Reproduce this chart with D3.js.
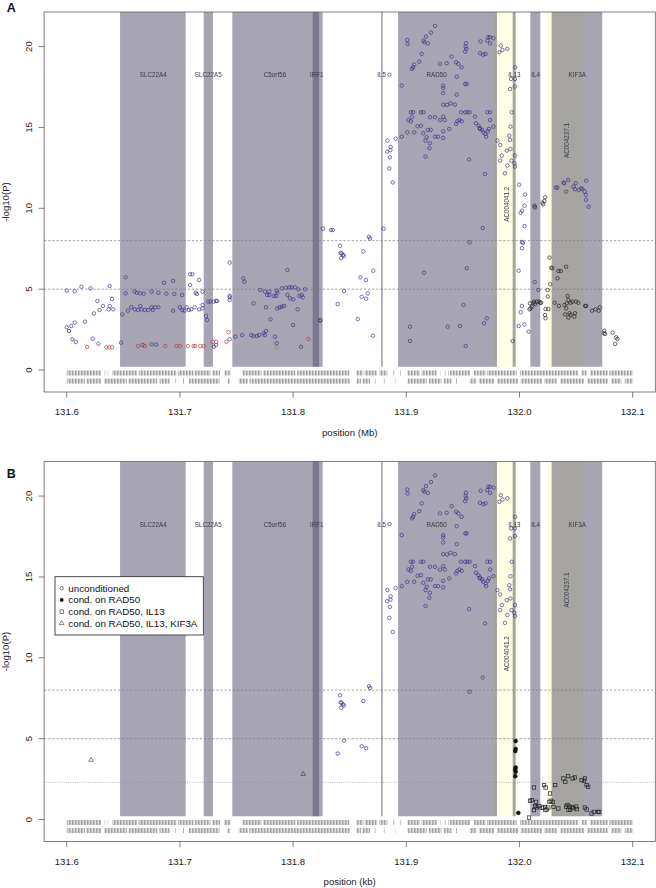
<!DOCTYPE html>
<html><head><meta charset="utf-8">
<script src="https://cdn.jsdelivr.net/npm/d3@7"></script>
<style>
body{margin:0;background:#fff;}
svg{display:block;font-family:"Liberation Sans",Arial,Helvetica,sans-serif;}
</style>
</head><body>
<svg id="chart" width="656" height="888"></svg>
<script>
// ---------- DATA ----------
const xTicks = [131.6, 131.7, 131.8, 131.9, 132.0, 132.1];
const xTickLabels = ["131.6", "131.7", "131.8", "131.9", "132.0", "132.1"];
const yTicks = [0, 5, 10, 15, 20];
const yTickLabels = ["0", "5", "10", "15", "20"];
const panelLetters = ["A", "B"];
const xTitles = ["position (Mb)", "position (kb)"];
const yTitle = "-log10(P)";

const geneNames  = ["SLC22A4", "SLC22A5", "C5orf56", "IRF1", "IL5", "RAD50", "IL13", "IL4", "KIF3A"];
const geneStart  = [131.6471, 131.7210, 131.7463, 131.8173, 131.8777, 131.8927, 131.9940, 132.0096, 132.0284];
const geneEnd    = [131.7051, 131.7292, 131.8229, 131.8261, 131.8792, 131.9801, 131.9966, 132.0184, 132.0731];
const geneLabelX = [131.6765, 131.7251, 131.7840, 131.8209, 131.8783, 131.9268, 131.9955, 132.0142, 132.0511];
const geneLabelY = 18.25;

const ncNames  = ["AC004041.2", "AC004237.1"];
const ncStart  = [131.9771, 132.0240];
const ncEnd    = [131.9982, 132.0570];
const ncLabelX = [131.9887, 132.0422];
const ncLabelY = [10.25, 14.2];

const thresholdsA = [8, 5];
const thresholdsB = [8, 5];
const dottedB = [2.3];

// unconditioned SNPs shown in both panels
const uncondShared = [
 [131.8394,4.08],[131.8450,4.88],[131.8606,4.53],[131.8645,4.41],[131.8415,7.68],[131.8420,7.24],[131.8428,7.22],
 [131.8440,7.12],[131.8448,7.05],[131.8425,6.92],[131.8620,7.33],[131.8670,8.24],[131.8680,8.13],
 [131.8851,18.27],[131.8960,17.59],[131.8833,14.19],[131.8830,13.5],[131.8860,13.6],[131.8862,13.8],[131.8855,13.15],
 [131.8850,12.47],[131.8880,11.6],[131.8906,14.31],[131.8960,14.43],
 [131.9254,21.28],[131.9218,20.87],[131.9174,20.62],[131.9009,20.41],[131.9012,20.16],[131.9150,20.37],[131.9160,20.27],
 [131.9190,20.2],[131.9136,19.55],[131.9115,19.07],[131.9070,18.89],[131.9060,18.72],[131.9050,18.62],[131.9298,18.93],
 [131.9357,18.97],[131.9401,19.38],[131.9440,19.03],[131.9460,18.93],[131.9489,18.72],[131.9445,18.14],
 [131.9527,20.21],[131.9524,20.0],[131.9530,19.86],[131.9520,19.69],[131.9657,20.33],[131.9724,20.58],[131.9740,20.58],
 [131.9716,20.37],[131.9740,20.2],[131.9770,20.52],[131.9651,19.59],[131.9680,19.5],[131.9700,19.55],
 [131.9326,17.59],[131.9326,17.44],[131.9326,17.13],[131.9521,17.69],[131.9533,17.69],[131.9445,17.03],[131.9390,16.49],
 [131.9360,16.39],[131.9326,16.41],[131.9430,16.41],
 [131.9483,15.94],[131.9520,15.94],[131.9540,15.94],[131.9560,15.94],[131.9040,15.94],[131.9060,15.94],[131.9130,15.94],[131.9150,15.94],
 [131.9018,15.46],[131.9040,15.38],[131.9050,15.63],[131.9100,15.07],[131.9130,15.11],
 [131.9210,15.63],[131.9254,15.63],[131.9298,15.46],[131.9340,15.46],[131.9327,15.67],
 [131.9009,14.7],[131.9070,14.7],[131.9150,14.64],[131.9190,14.85],[131.9216,14.85],[131.9180,14.39],[131.9170,14.19],
 [131.9209,14.02],[131.9204,13.71],[131.9170,13.2],
 [131.9254,14.43],[131.9280,14.43],[131.9326,14.35],[131.9326,14.76],[131.9380,14.91],
 [131.9451,15.38],[131.9470,15.46],[131.9490,15.38],[131.9440,15.22],
 [131.9607,15.67],[131.9616,15.26],[131.9637,15.11],[131.9651,14.91],[131.9670,14.85],[131.9680,14.7],[131.9700,14.6],
 [131.9705,14.43],[131.9650,14.97],
 [131.9716,15.94],[131.9740,15.94],[131.9740,15.46],[131.9770,15.05],[131.9730,14.91],[131.9720,14.76],
 [131.9555,13.01],[131.9696,12.12],[131.9675,8.78],[131.9558,7.9],
 [131.9835,20.06],[131.9850,19.79],[131.9822,19.65],[131.9893,19.86],[131.9961,18.72],[131.9926,18.0],[131.9960,18.0],
 [131.9960,17.53],[131.9917,17.38],[131.9932,15.94],[131.9920,15.05],[131.9910,14.49],[131.9917,14.23],[131.9805,14.19],
 [131.9830,13.92],[131.9844,13.26],[131.9888,13.57],[131.9920,13.67],[131.9830,12.95],[131.9893,12.64],[131.9930,12.95],
 [131.9960,13.26],[131.9960,12.58],[131.9955,12.78],[131.9872,12.16]
];

// unconditioned SNPs shown only in panel A
const uncondAOnly = [
 [131.6000,4.91],[131.6070,4.87],[131.6130,5.15],[131.6210,5.05],[131.6380,5.20],[131.6520,5.73],[131.6270,4.27],
 [131.6400,4.39],[131.6320,3.96],[131.6380,3.96],[131.6410,3.75],[131.6370,3.75],[131.6290,3.71],[131.6240,3.50],
 [131.6160,2.99],[131.6070,2.93],[131.6040,2.72],[131.6000,2.64],[131.6050,1.90],[131.6080,1.73],[131.6230,1.94],
 [131.6280,1.63],[131.6480,1.69],
 [131.6520,4.74],[131.6600,4.85],[131.6620,4.78],[131.6650,4.74],[131.6680,4.72],[131.6750,4.85],[131.6810,4.78],
 [131.6880,4.72],[131.6950,4.70],[131.7020,4.64],[131.6860,5.40],[131.6940,5.51],[131.6490,3.44],[131.6540,3.67],
 [131.6570,3.88],[131.6600,3.75],[131.6630,3.71],[131.6660,3.75],[131.6690,3.71],[131.6720,3.71],[131.6750,3.88],
 [131.6780,3.88],[131.6810,3.88],[131.6760,3.71],[131.6940,3.67],[131.7000,3.88],[131.7020,3.71],[131.7040,3.67],
 [131.6650,3.96],[131.6670,1.55],[131.6750,1.59],[131.6790,1.57],
 [131.7090,5.92],[131.7110,5.92],[131.7090,5.26],[131.7170,5.57],[131.7140,4.78],[131.7150,4.70],[131.7200,4.85],
 [131.7060,3.88],[131.7080,3.71],[131.7100,3.75],[131.7130,3.88],[131.7170,3.75],[131.7200,4.02],[131.7200,3.81],
 [131.7230,3.34],[131.7240,3.09],[131.7250,4.23],[131.7270,4.23],[131.7300,4.23],[131.7320,4.27],[131.7300,1.44],
 [131.7320,1.55],[131.7330,4.27],[131.7440,1.90],[131.7440,4.33],[131.7440,4.49],[131.7440,4.58],[131.7440,6.64],
 [131.7490,2.06],[131.7550,2.16],[131.7630,2.16],[131.7650,2.10],[131.7680,2.10],[131.7700,2.16],[131.7740,2.27],
 [131.7760,2.41],[131.7750,2.16],[131.7840,2.06],[131.7855,1.65],[131.8070,1.44],[131.7560,5.67],[131.7570,5.46],
 [131.7650,4.12],[131.7710,4.95],[131.7770,4.64],[131.7790,4.64],[131.7830,4.58],[131.7850,4.58],
 [131.7752,4.85],[131.7790,4.85],[131.7855,4.91],[131.7900,5.05],[131.7938,5.09],[131.7967,5.11],[131.7988,5.11],
 [131.8017,5.11],[131.8047,4.99],[131.8105,4.99],
 [131.7760,3.88],[131.7800,3.13],[131.7860,3.81],[131.7880,3.88],[131.7900,3.92],[131.7920,3.96],
 [131.7861,4.78],[131.7950,4.64],[131.7973,4.43],[131.8002,4.37],[131.8055,4.58],[131.8076,4.64],[131.8085,4.49],
 [131.7950,6.19],[131.8000,2.78],[131.8040,3.75],[131.8240,3.09],
 [131.8264,8.74],[131.8334,8.66],[131.8350,8.66],[131.8239,3.05],[131.8595,5.73],[131.8644,5.57],[131.8708,6.14],
 [131.8659,4.74],[131.8571,3.15],[131.8705,2.12],[131.8800,8.74],
 [131.9157,6.02],[131.9534,6.29],[131.9505,4.02],[131.9033,2.68],[131.9366,2.68],[131.9475,2.72],[131.9711,3.2],
 [131.9687,2.89],[131.9033,1.79],[131.9525,1.48],[131.9940,1.79],
 [131.9996,11.46],[132.0050,10.85],[132.0044,10.16],[132.0024,9.85],[132.0010,9.73],[132.0044,8.9],[132.0022,7.92],
 [132.0030,7.86],[132.0022,7.53],[131.9993,6.14],[132.0022,3.96],[132.0010,3.57],[132.0043,2.82],[131.9993,2.72],
 [132.0081,2.37],[132.0134,5.44],[132.0167,4.95],
 [132.0323,11.28],[132.0335,11.28],[132.0389,11.59],[132.0395,11.55],[132.0430,11.75],[132.0412,11.03],[132.0477,11.34],
 [132.0498,11.55],[132.0489,11.18],[132.0523,11.13],[132.0545,11.24],[132.0557,11.18],[132.0577,11.03],[132.0586,10.82],
 [132.0589,10.52],[132.0589,11.71],[132.0610,10.1]
];

// panel A, black circles
const blackA = [
 [131.6020,2.41],[132.0133,10.16],[132.0136,10.06],[132.0203,10.35],[132.0220,10.45],[132.0227,10.68],[132.0210,10.25],
 [132.0265,6.95],[132.0280,6.33],[132.0290,6.29],[132.0345,6.12],[132.0365,6.12],[132.0412,6.39],[132.0336,5.67],
 [132.0271,5.3],[132.0248,4.95],[132.0250,4.54],[132.0230,3.77],[132.0256,3.77],[132.0226,3.4],[132.0230,3.2],
 [132.0093,4.12],[132.0124,4.16],[132.0153,4.23],[132.0183,4.16],[132.0139,4.08],[132.0109,3.92],[132.0089,3.75],
 [132.0129,4.23],[132.0174,4.23],[132.0191,4.16],[132.0097,3.81],
 [132.0426,4.58],[132.0432,4.33],[132.0418,4.12],[132.0452,4.16],[132.0499,4.23],[132.0397,4.02],[132.0412,3.81],
 [132.0442,3.51],[132.0452,3.40],[132.0490,3.51],[132.0485,3.30],[132.0403,3.44],[132.0432,3.24],[132.0310,4.16],
 [132.0348,3.96],[132.0467,4.23],[132.0520,4.16],
 [132.0580,3.96],[132.0589,3.96],[132.0641,3.67],[132.0671,3.75],[132.0709,3.88],[132.0700,3.67],
 [132.0749,2.43],[132.0757,2.23],[132.0745,2.27],[132.0824,2.31],[132.0854,2.02],[132.0866,1.92],[132.0845,1.61]
];

// panel A, red circles
const redA = [
 [131.6180,1.42],[131.6350,1.40],[131.6375,1.40],[131.6400,1.40],[131.6630,1.48],[131.6690,1.48],[131.6870,1.48],
 [131.6970,1.48],[131.7000,1.48],[131.7070,1.48],[131.7120,1.48],[131.7135,1.48],[131.7180,1.48],[131.7210,1.48],
 [131.7290,1.73],[131.7320,1.73],[131.7430,2.33],[131.7410,1.75],[131.8135,1.92]
];
// panel A, green circle
const greenA = [[131.7855,1.40]];

// panel B conditional analyses
const condRAD50 = [
 [131.9966,4.85],[131.9966,4.36],[131.9963,4.23],[131.9966,3.22],[131.9963,3.10],[131.9966,2.95],[131.9963,2.68],[131.9990,0.41]
];
const condRAD50IL13 = [
 [132.0084,0.12],[132.0128,1.98],[132.0093,1.16],[132.0108,1.20],[132.0146,1.09],[132.0137,0.83],[132.0128,0.58],
 [132.0152,0.74],[132.0175,0.83],[132.0196,0.72],[132.0211,0.74],[132.0229,0.58],[132.0217,2.13],[132.0231,1.98],
 [132.0226,0.78],[132.0240,0.62],[132.0255,0.74],[132.0270,1.61],[132.0265,1.09],[132.0276,1.16],[132.0294,1.09],
 [132.0300,0.78],[132.0315,2.13],[132.0343,0.68],[132.0388,2.54],[132.0405,2.33],[132.0429,2.68],[132.0470,2.54],
 [132.0490,2.60],[132.0412,0.80],[132.0424,0.90],[132.0441,0.80],[132.0462,0.76],[132.0476,0.70],[132.0506,0.64],
 [132.0432,0.60],[132.0447,0.60],[132.0500,0.80],[132.0549,2.44],[132.0578,2.54],[132.0570,2.40],[132.0593,2.13],
 [132.0607,2.02],[132.0578,0.74],[132.0593,0.62],[132.0637,0.37],[132.0657,0.47],[132.0695,0.47],[132.0704,0.47]
];
const condRAD50IL13KIF3A = [[131.6215,3.68],[131.8090,2.81]];

const legendLabels = ["unconditioned", "cond. on RAD50", "cond. on RAD50, IL13", "cond. on RAD50, IL13, KIF3A"];

// SNP rug: runs of densely spaced markers [start, end] (Mb), two rows
const rugRow1 = [
 [131.6000,131.6303],[131.6332,131.6337],[131.6358,131.6363],[131.6403,131.6620],[131.6635,131.6970],[131.6982,131.7120],
 [131.7130,131.7270],[131.7285,131.7355],[131.7390,131.7449],[131.7552,131.7720],[131.7735,131.8020],[131.8035,131.8326],
 [131.8326,131.8497],[131.8558,131.8620],[131.8632,131.8739],[131.8762,131.8833],[131.8886,131.8890],[131.8944,131.8948],
 [131.9009,131.9120],[131.9135,131.9269],[131.9298,131.9302],[131.9340,131.9344],[131.9370,131.9374],[131.9386,131.9563],
 [131.9598,131.9700],[131.9712,131.9975],[132.0005,132.0520],[132.0550,132.0594],[132.0623,132.0780],[132.0795,132.1003]
];
const rugRow2 = [
 [131.6000,131.6160],[131.6172,131.6305],[131.6330,131.6530],[131.6545,131.6800],[131.6820,131.6910],[131.6958,131.6962],
 [131.7028,131.7032],[131.7080,131.7350],[131.7420,131.7440],[131.7520,131.7600],[131.7615,131.8326],[131.8326,131.8500],
 [131.8560,131.8600],[131.8610,131.8680],[131.8720,131.8724],[131.8800,131.8804],[131.8900,131.8904],[131.9010,131.9180],
 [131.9200,131.9310],[131.9330,131.9400],[131.9440,131.9444],[131.9560,131.9620],[131.9640,131.9780],[131.9800,131.9990],
 [132.0010,132.0200],[132.0220,132.0330],[132.0360,132.0570],[132.0600,132.0780],[132.0810,132.0900],[132.0930,132.1003]
];

// ---------- LAYOUT ----------
const svg = d3.select("#chart");
const x = d3.scaleLinear().domain([131.58, 132.12]).range([44.1, 655.3]);
const panels = [
  { top: 12, bottom: 392, letterY: 11.7 },
  { top: 461.5, bottom: 841.5, letterY: 478.3 }
];
const yDomain = [-1.36, 22.14];

const defs = svg.append("defs");
const pat = defs.append("pattern").attr("id", "rugpat").attr("patternUnits", "userSpaceOnUse")
  .attr("width", 1.5).attr("height", 20);
pat.append("rect").attr("width", 0.9).attr("height", 20).attr("fill", "#959595");

const BLUE = "#3b2c80";
const GRAYBAND = "rgba(80,75,105,0.5)";
const YELLOW = "#fefee4";

function drawPanel(pi) {
  const P = panels[pi];
  const y = d3.scaleLinear().domain(yDomain).range([P.bottom, P.top]);
  const g = svg.append("g");
  const clipId = "clip" + pi;
  defs.append("clipPath").attr("id", clipId).append("rect")
    .attr("x", x.range()[0]).attr("y", P.top).attr("width", x.range()[1] - x.range()[0]).attr("height", P.bottom - P.top);
  const plot = g.append("g").attr("clip-path", `url(#${clipId})`);

  // gene bands
  plot.selectAll("rect.gene").data(geneNames).join("rect").attr("class", "gene")
    .attr("x", (d, i) => x(geneStart[i])).attr("width", (d, i) => x(geneEnd[i]) - x(geneStart[i]))
    .attr("y", P.top).attr("height", y(0.2) - P.top).attr("fill", GRAYBAND);
  plot.selectAll("rect.nc").data(ncNames).join("rect").attr("class", "nc")
    .attr("x", (d, i) => x(ncStart[i])).attr("width", (d, i) => x(ncEnd[i]) - x(ncStart[i]))
    .attr("y", P.top).attr("height", y(0.2) - P.top).attr("fill", YELLOW)
    .style("mix-blend-mode", "multiply");

  // gene labels
  plot.selectAll("text.gl").data(geneNames).join("text").attr("class", "gl")
    .attr("x", (d, i) => x(geneLabelX[i])).attr("y", y(geneLabelY) + 2.2)
    .attr("text-anchor", "middle").attr("font-size", 6.3).attr("fill", "#3a3a48").text(d => d);
  plot.selectAll("text.ncl").data(ncNames).join("text").attr("class", "ncl")
    .attr("transform", (d, i) => `translate(${x(ncLabelX[i]) + 2.2},${y(ncLabelY[i])}) rotate(-90)`)
    .attr("text-anchor", "middle").attr("font-size", 6.3).attr("fill", "#3a3a48").text(d => d);

  // threshold lines
  const th = pi === 0 ? thresholdsA : thresholdsB;
  plot.selectAll("line.th").data(th).join("line").attr("class", "th")
    .attr("x1", x.range()[0]).attr("x2", x.range()[1]).attr("y1", d => y(d)).attr("y2", d => y(d))
    .attr("stroke", "#7a7a7a").attr("stroke-width", 0.7).attr("stroke-dasharray", "2.3,1.8");
  if (pi === 1) {
    plot.selectAll("line.dot").data(dottedB).join("line").attr("class", "dot")
      .attr("x1", x.range()[0]).attr("x2", x.range()[1]).attr("y1", d => y(d)).attr("y2", d => y(d))
      .attr("stroke", "#8a8a8a").attr("stroke-width", 0.7).attr("stroke-dasharray", "0.8,1.4");
  }

  // rug
  const rugRows = [[rugRow1, -0.03, -0.34], [rugRow2, -0.53, -0.84]];
  rugRows.forEach(([runs, a, b], ri) => {
    plot.selectAll("rect.rug" + ri).data(runs).join("rect").attr("class", "rug" + ri)
      .attr("x", d => x(d[0])).attr("width", d => Math.max(0.9, x(d[1]) - x(d[0])))
      .attr("y", y(a)).attr("height", y(b) - y(a)).attr("fill", "url(#rugpat)");
  });

  // points
  function circles(data, stroke, fill, r) {
    plot.append("g").selectAll("circle").data(data).join("circle")
      .attr("cx", d => x(d[0])).attr("cy", d => y(d[1])).attr("r", r)
      .attr("fill", fill).attr("stroke", stroke).attr("stroke-width", 0.65);
  }
  if (pi === 0) {
    circles(uncondAOnly, BLUE, "none", 1.75);
    circles(uncondShared, BLUE, "none", 1.75);
    circles(redA, "#c0302a", "none", 1.75);
    circles(greenA, "#6e8a3a", "none", 1.75);
    circles(blackA, "#1e1e1e", "none", 1.75);
  } else {
    circles(uncondShared, BLUE, "none", 1.75);
    plot.append("g").selectAll("rect").data(condRAD50IL13).join("rect")
      .attr("x", d => x(d[0]) - 1.7).attr("y", d => y(d[1]) - 1.7).attr("width", 3.4).attr("height", 3.4)
      .attr("fill", "none").attr("stroke", "#222").attr("stroke-width", 0.7);
    circles(condRAD50, "#111", "#111", 1.9);
    const tri = d3.symbol().type(d3.symbolTriangle).size(9);
    plot.append("g").selectAll("path").data(condRAD50IL13KIF3A).join("path")
      .attr("transform", d => `translate(${x(d[0])},${y(d[1])})`).attr("d", tri)
      .attr("fill", "none").attr("stroke", "#333").attr("stroke-width", 0.6);
  }

  // box
  g.append("rect").attr("x", x.range()[0]).attr("y", P.top)
    .attr("width", x.range()[1] - x.range()[0]).attr("height", P.bottom - P.top)
    .attr("fill", "none").attr("stroke", "#555").attr("stroke-width", 0.75);

  // y axis
  const yAxis = g.append("g");
  yAxis.selectAll("line").data(yTicks).join("line")
    .attr("x1", x.range()[0] - 5.6).attr("x2", x.range()[0]).attr("y1", d => y(d)).attr("y2", d => y(d))
    .attr("stroke", "#555").attr("stroke-width", 0.75);
  yAxis.selectAll("text").data(yTicks).join("text")
    .attr("transform", d => `translate(31.6,${y(d)}) rotate(-90)`).attr("text-anchor", "middle")
    .attr("font-size", 9.6).attr("fill", "#222").text((d, i) => yTickLabels[i]);
  g.append("text").attr("transform", `translate(9.2,${(P.top + P.bottom) / 2}) rotate(-90)`)
    .attr("text-anchor", "middle").attr("font-size", 9.6).attr("fill", "#222").text(yTitle);

  // x axis
  const xAxis = g.append("g");
  xAxis.selectAll("line").data(xTicks).join("line")
    .attr("x1", d => x(d)).attr("x2", d => x(d)).attr("y1", P.bottom).attr("y2", P.bottom + 5.6)
    .attr("stroke", "#555").attr("stroke-width", 0.75);
  xAxis.selectAll("text").data(xTicks).join("text")
    .attr("x", d => x(d)).attr("y", P.bottom + 23).attr("text-anchor", "middle")
    .attr("font-size", 9.6).attr("fill", "#222").text((d, i) => xTickLabels[i]);
  g.append("text").attr("x", (x.range()[0] + x.range()[1]) / 2).attr("y", P.bottom + 43.5)
    .attr("text-anchor", "middle").attr("font-size", 9.6).attr("fill", "#222").text(xTitles[pi]);

  // panel letter
  g.append("text").attr("x", 6.8).attr("y", P.letterY).attr("font-size", 12.5).attr("font-weight", "bold")
    .attr("fill", "#111").text(panelLetters[pi]);

  // legend
  if (pi === 1) {
    const L = g.append("g");
    L.append("rect").attr("x", 55).attr("y", 576.7).attr("width", 148.3).attr("height", 58.3)
      .attr("fill", "#fff").attr("stroke", "#222").attr("stroke-width", 0.8);
    legendLabels.forEach((lab, i) => {
      const cy = 588.3 + i * 11.65;
      const sx = 61.7;
      if (i === 0) L.append("circle").attr("cx", sx).attr("cy", cy).attr("r", 1.75).attr("fill", "none").attr("stroke", "#333").attr("stroke-width", 0.65);
      if (i === 1) L.append("circle").attr("cx", sx).attr("cy", cy).attr("r", 1.9).attr("fill", "#111");
      if (i === 2) L.append("rect").attr("x", sx - 1.7).attr("y", cy - 1.7).attr("width", 3.4).attr("height", 3.4).attr("fill", "none").attr("stroke", "#333").attr("stroke-width", 0.65);
      if (i === 3) L.append("path").attr("transform", `translate(${sx},${cy})`).attr("d", d3.symbol().type(d3.symbolTriangle).size(9)).attr("fill", "none").attr("stroke", "#333").attr("stroke-width", 0.6);
      L.append("text").attr("x", 68.3).attr("y", cy + 3.4).attr("font-size", 9.8).attr("fill", "#111").text(lab);
    });
  }
}
drawPanel(0);
drawPanel(1);
</script>
</body></html>
